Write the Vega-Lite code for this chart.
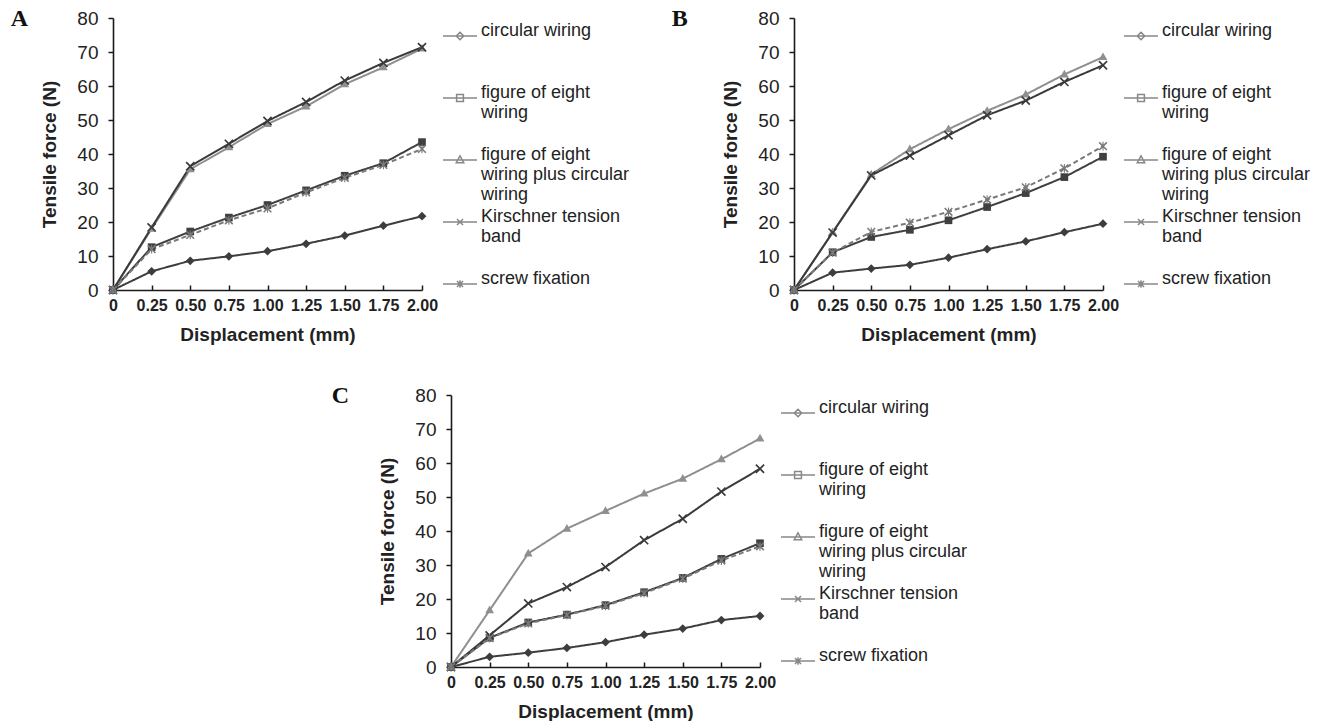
{
  "$schema": "https://vega.github.io/schema/vega-lite/v6.json",
  "padding": {"left": 10, "top": 7, "right": 0, "bottom": 0},
  "background": "white",
  "config": {
    "view": {"stroke": null},
    "axis": {"domainColor": "#1a1a1a", "domainWidth": 1.6, "tickColor": "#1a1a1a", "tickWidth": 1.5, "labelColor": "#222222", "titleColor": "#222222", "labelFont": "Liberation Sans", "titleFont": "Liberation Sans", "titleFontSize": 19, "titleFontWeight": "bold", "grid": false},
    "axisX": {"labelFontSize": 16, "labelFontWeight": "bold", "tickSize": -5, "labelPadding": 12, "titlePadding": 12, "labelFlush": false, "labelOverlap": false},
    "axisY": {"labelFontSize": 19, "tickSize": 5, "labelPadding": 10, "titlePadding": 17},
    "title": {"font": "Liberation Serif", "fontSize": 24, "fontWeight": "bold", "color": "#111111", "anchor": "start", "frame": "bounds", "offset": 0},
    "legend": {"title": null, "orient": "right", "offset": 16, "padding": 0, "labelFont": "Liberation Sans", "labelFontSize": 18, "labelColor": "#222222", "labelLimit": 300, "labelBaseline": "alphabetic", "labelOffset": 3, "symbolSize": 1156, "symbolStrokeWidth": 1.5, "symbolOpacity": 1, "rowPadding": -18}
  },
  "data": {"values": [
    {"panel": "A", "disp": 0, "circular wiring": 0, "figure of eight wiring": 0, "figure of eight wiring plus circular wiring": 0, "Kirschner tension band": 0, "screw fixation": 0},
    {"panel": "A", "disp": 0.25, "circular wiring": 5.5, "figure of eight wiring": 12.6, "figure of eight wiring plus circular wiring": 18.0, "Kirschner tension band": 18.4, "screw fixation": 12.0},
    {"panel": "A", "disp": 0.5, "circular wiring": 8.6, "figure of eight wiring": 17.2, "figure of eight wiring plus circular wiring": 35.5, "Kirschner tension band": 36.4, "screw fixation": 16.2},
    {"panel": "A", "disp": 0.75, "circular wiring": 9.9, "figure of eight wiring": 21.3, "figure of eight wiring plus circular wiring": 42.0, "Kirschner tension band": 43.0, "screw fixation": 20.5},
    {"panel": "A", "disp": 1.0, "circular wiring": 11.4, "figure of eight wiring": 25.0, "figure of eight wiring plus circular wiring": 48.8, "Kirschner tension band": 49.7, "screw fixation": 24.0},
    {"panel": "A", "disp": 1.25, "circular wiring": 13.6, "figure of eight wiring": 29.3, "figure of eight wiring plus circular wiring": 54.0, "Kirschner tension band": 55.3, "screw fixation": 28.7},
    {"panel": "A", "disp": 1.5, "circular wiring": 16.0, "figure of eight wiring": 33.6, "figure of eight wiring plus circular wiring": 60.5, "Kirschner tension band": 61.6, "screw fixation": 33.0},
    {"panel": "A", "disp": 1.75, "circular wiring": 18.9, "figure of eight wiring": 37.3, "figure of eight wiring plus circular wiring": 65.5, "Kirschner tension band": 66.8, "screw fixation": 36.8},
    {"panel": "A", "disp": 2.0, "circular wiring": 21.7, "figure of eight wiring": 43.5, "figure of eight wiring plus circular wiring": 71.0, "Kirschner tension band": 71.4, "screw fixation": 41.5},
    {"panel": "B", "disp": 0, "circular wiring": 0, "figure of eight wiring": 0, "figure of eight wiring plus circular wiring": 0, "Kirschner tension band": 0, "screw fixation": 0},
    {"panel": "B", "disp": 0.25, "circular wiring": 5.1, "figure of eight wiring": 11.1, "figure of eight wiring plus circular wiring": 17.0, "Kirschner tension band": 16.9, "screw fixation": 11.0},
    {"panel": "B", "disp": 0.5, "circular wiring": 6.3, "figure of eight wiring": 15.6, "figure of eight wiring plus circular wiring": 34.0, "Kirschner tension band": 33.7, "screw fixation": 17.1},
    {"panel": "B", "disp": 0.75, "circular wiring": 7.4, "figure of eight wiring": 17.7, "figure of eight wiring plus circular wiring": 41.4, "Kirschner tension band": 39.5, "screw fixation": 19.8},
    {"panel": "B", "disp": 1.0, "circular wiring": 9.5, "figure of eight wiring": 20.5, "figure of eight wiring plus circular wiring": 47.3, "Kirschner tension band": 45.5, "screw fixation": 23.0},
    {"panel": "B", "disp": 1.25, "circular wiring": 12.0, "figure of eight wiring": 24.4, "figure of eight wiring plus circular wiring": 52.7, "Kirschner tension band": 51.4, "screw fixation": 26.6},
    {"panel": "B", "disp": 1.5, "circular wiring": 14.3, "figure of eight wiring": 28.5, "figure of eight wiring plus circular wiring": 57.5, "Kirschner tension band": 55.7, "screw fixation": 30.2},
    {"panel": "B", "disp": 1.75, "circular wiring": 17.0, "figure of eight wiring": 33.2, "figure of eight wiring plus circular wiring": 63.4, "Kirschner tension band": 61.2, "screw fixation": 35.8},
    {"panel": "B", "disp": 2.0, "circular wiring": 19.5, "figure of eight wiring": 39.2, "figure of eight wiring plus circular wiring": 68.5, "Kirschner tension band": 66.1, "screw fixation": 42.3},
    {"panel": "C", "disp": 0, "circular wiring": 0, "figure of eight wiring": 0, "figure of eight wiring plus circular wiring": 0, "Kirschner tension band": 0, "screw fixation": 0},
    {"panel": "C", "disp": 0.25, "circular wiring": 3.0, "figure of eight wiring": 8.6, "figure of eight wiring plus circular wiring": 16.7, "Kirschner tension band": 9.3, "screw fixation": 8.5},
    {"panel": "C", "disp": 0.5, "circular wiring": 4.2, "figure of eight wiring": 13.1, "figure of eight wiring plus circular wiring": 33.4, "Kirschner tension band": 18.7, "screw fixation": 12.8},
    {"panel": "C", "disp": 0.75, "circular wiring": 5.6, "figure of eight wiring": 15.4, "figure of eight wiring plus circular wiring": 40.7, "Kirschner tension band": 23.5, "screw fixation": 15.3},
    {"panel": "C", "disp": 1.0, "circular wiring": 7.3, "figure of eight wiring": 18.2, "figure of eight wiring plus circular wiring": 45.9, "Kirschner tension band": 29.4, "screw fixation": 18.0},
    {"panel": "C", "disp": 1.25, "circular wiring": 9.5, "figure of eight wiring": 22.0, "figure of eight wiring plus circular wiring": 51.0, "Kirschner tension band": 37.3, "screw fixation": 21.7},
    {"panel": "C", "disp": 1.5, "circular wiring": 11.3, "figure of eight wiring": 26.2, "figure of eight wiring plus circular wiring": 55.4, "Kirschner tension band": 43.6, "screw fixation": 26.0},
    {"panel": "C", "disp": 1.75, "circular wiring": 13.8, "figure of eight wiring": 31.8, "figure of eight wiring plus circular wiring": 61.1, "Kirschner tension band": 51.6, "screw fixation": 31.3},
    {"panel": "C", "disp": 2.0, "circular wiring": 15.0, "figure of eight wiring": 36.4, "figure of eight wiring plus circular wiring": 67.2, "Kirschner tension band": 58.3, "screw fixation": 35.5}
  ]},
  "resolve": {"scale": {"color": "independent", "shape": "independent", "strokeDash": "independent"}, "legend": {"color": "independent", "shape": "independent", "strokeDash": "independent"}},
  "spacing": 40,
  "vconcat": [
    {
      "spacing": 41,
      "resolve": {"scale": {"color": "independent", "shape": "independent", "strokeDash": "independent"}, "legend": {"color": "independent", "shape": "independent", "strokeDash": "independent"}},
      "hconcat": [
        {
          "width": 309, "height": 272,
          "title": {"text": "A", "dx": -30, "dy": 26},
          "resolve": {"scale": {"shape": "independent"}},
          "encoding": {
            "x": {"field": "disp", "type": "quantitative", "scale": {"domain": [0, 2], "nice": false}, "axis": {"title": "Displacement (mm)", "values": [0, 0.25, 0.5, 0.75, 1, 1.25, 1.5, 1.75, 2], "labelExpr": "datum.value == 0 ? '0' : format(datum.value, '.2f')"}},
            "y": {"field": "force", "type": "quantitative", "scale": {"domain": [0, 80], "nice": false}, "axis": {"title": "Tensile force (N)", "values": [0, 10, 20, 30, 40, 50, 60, 70, 80]}}
          },
          "layer": [
            {
              "transform": [{"filter": "datum.panel == 'A'"}, {"fold": ["circular wiring", "figure of eight wiring", "figure of eight wiring plus circular wiring", "Kirschner tension band", "screw fixation"], "as": ["series", "force"]}],
              "mark": {"type": "line", "strokeWidth": 2},
              "encoding": {
                "color": {"field": "series", "type": "nominal", "scale": {"domain": ["circular wiring", "figure of eight wiring", "figure of eight wiring plus circular wiring", "Kirschner tension band", "screw fixation"], "range": ["#3d3d3d", "#404040", "#8f8f8f", "#3a3a3a", "#7a7a7a"]}, "legend": null},
                "strokeDash": {"field": "series", "type": "nominal", "scale": {"domain": ["circular wiring", "figure of eight wiring", "figure of eight wiring plus circular wiring", "Kirschner tension band", "screw fixation"], "range": [[1, 0], [1, 0], [1, 0], [1, 0], [5, 3]]}, "legend": null}
              }
            },
            {
              "transform": [{"filter": "datum.panel == 'A'"}, {"fold": ["circular wiring", "figure of eight wiring", "figure of eight wiring plus circular wiring", "Kirschner tension band", "screw fixation"], "as": ["marker", "force"]}],
              "mark": {"type": "point", "filled": true, "opacity": 1},
              "encoding": {
                "color": {"field": "marker", "type": "nominal", "scale": {"domain": ["circular wiring", "figure of eight wiring", "figure of eight wiring plus circular wiring", "Kirschner tension band", "screw fixation"], "range": ["#3d3d3d", "#404040", "#8f8f8f", "#3a3a3a", "#7a7a7a"]}, "legend": null},
                "shape": {"field": "marker", "type": "nominal", "scale": {"domain": ["circular wiring", "figure of eight wiring", "figure of eight wiring plus circular wiring", "Kirschner tension band", "screw fixation"], "range": ["M0,-1.6L1.6,0L0,1.6L-1.6,0Z", "M-1.4,-1.4H1.4V1.4H-1.4Z", "M0,-1.7L1.6,1.1L-1.6,1.1Z", "M-1.7,-1.275L-1.275,-1.7L0,-0.425L1.275,-1.7L1.7,-1.275L0.425,0L1.7,1.275L1.275,1.7L0,0.425L-1.275,1.7L-1.7,1.275L-0.425,0Z", "M-1.6,-1.2L-1.2,-1.6L0,-0.4L1.2,-1.6L1.6,-1.2L0.4,0L1.6,1.2L1.2,1.6L0,0.4L-1.2,1.6L-1.6,1.2L-0.4,0ZM-0.2,-1.6H0.2V1.6H-0.2Z"]}, "legend": null}
              }
            },
            {
              "data": {"values": []},
              "transform": [{"fold": ["circular wiring", "figure of eight wiring", "figure of eight wiring plus circular wiring", "Kirschner tension band", "screw fixation"], "as": ["series", "force"]}],
              "mark": {"type": "point", "filled": false, "strokeWidth": 1.5},
              "encoding": {
                "color": {"field": "series", "type": "nominal", "scale": {"domain": ["circular wiring", "figure of eight wiring", "figure of eight wiring plus circular wiring", "Kirschner tension band", "screw fixation"], "range": ["#3d3d3d", "#404040", "#8f8f8f", "#3a3a3a", "#7a7a7a"]},
                  "legend": {"title": null, "orient": "right", "offset": 16, "padding": 0, "labelExpr": "datum.value == 'circular wiring' ? ['circular wiring', '', ''] : datum.value == 'figure of eight wiring' ? ['figure of eight', 'wiring', ''] : datum.value == 'figure of eight wiring plus circular wiring' ? ['figure of eight', 'wiring plus circular', 'wiring'] : datum.value == 'Kirschner tension band' ? ['Kirschner tension', 'band', ''] : ['screw fixation', '', '']", "labelFont": "Liberation Sans", "labelFontSize": 18, "labelColor": "#222222", "labelLimit": 300, "labelBaseline": "alphabetic", "labelOffset": 3, "symbolSize": 1156, "symbolStrokeWidth": 1.5, "symbolOpacity": 1, "rowPadding": -18}
                },
                "shape": {"field": "series", "type": "nominal", "scale": {"domain": ["circular wiring", "figure of eight wiring", "figure of eight wiring plus circular wiring", "Kirschner tension band", "screw fixation"], "range": ["M-1,0H1M0,-0.22L0.22,0L0,0.22L-0.22,0Z", "M-1,0H1M-0.2,-0.2H0.2V0.2H-0.2Z", "M-1,0H1M0,-0.24L0.22,0.16L-0.22,0.16Z", "M-1,0H1M-0.18,-0.18L0.18,0.18M-0.18,0.18L0.18,-0.18", "M-1,0H1M-0.18,-0.18L0.18,0.18M-0.18,0.18L0.18,-0.18M0,-0.22V0.22"]},
                  "legend": {"title": null, "orient": "right", "offset": 16, "padding": 0, "labelExpr": "datum.value == 'circular wiring' ? ['circular wiring', '', ''] : datum.value == 'figure of eight wiring' ? ['figure of eight', 'wiring', ''] : datum.value == 'figure of eight wiring plus circular wiring' ? ['figure of eight', 'wiring plus circular', 'wiring'] : datum.value == 'Kirschner tension band' ? ['Kirschner tension', 'band', ''] : ['screw fixation', '', '']", "labelFont": "Liberation Sans", "labelFontSize": 18, "labelColor": "#222222", "labelLimit": 300, "labelBaseline": "alphabetic", "labelOffset": 3, "symbolSize": 1156, "symbolStrokeWidth": 1.5, "symbolOpacity": 1, "rowPadding": -18}
                },
                "strokeDash": {"field": "series", "type": "nominal", "scale": {"domain": ["circular wiring", "figure of eight wiring", "figure of eight wiring plus circular wiring", "Kirschner tension band", "screw fixation"], "range": [[1, 0], [1, 0], [1, 0], [1, 0], [5, 3]]},
                  "legend": {"title": null, "orient": "right", "offset": 16, "padding": 0, "labelExpr": "datum.value == 'circular wiring' ? ['circular wiring', '', ''] : datum.value == 'figure of eight wiring' ? ['figure of eight', 'wiring', ''] : datum.value == 'figure of eight wiring plus circular wiring' ? ['figure of eight', 'wiring plus circular', 'wiring'] : datum.value == 'Kirschner tension band' ? ['Kirschner tension', 'band', ''] : ['screw fixation', '', '']", "labelFont": "Liberation Sans", "labelFontSize": 18, "labelColor": "#222222", "labelLimit": 300, "labelBaseline": "alphabetic", "labelOffset": 3, "symbolSize": 1156, "symbolStrokeWidth": 1.5, "symbolOpacity": 1, "rowPadding": -18}
                }
              }
            }
          ]
        },
        {
          "width": 309, "height": 272,
          "title": {"text": "B", "dx": -50, "dy": 26},
          "resolve": {"scale": {"shape": "independent"}},
          "encoding": {
            "x": {"field": "disp", "type": "quantitative", "scale": {"domain": [0, 2], "nice": false}, "axis": {"title": "Displacement (mm)", "values": [0, 0.25, 0.5, 0.75, 1, 1.25, 1.5, 1.75, 2], "labelExpr": "datum.value == 0 ? '0' : format(datum.value, '.2f')"}},
            "y": {"field": "force", "type": "quantitative", "scale": {"domain": [0, 80], "nice": false}, "axis": {"title": "Tensile force (N)", "values": [0, 10, 20, 30, 40, 50, 60, 70, 80]}}
          },
          "layer": [
            {
              "transform": [{"filter": "datum.panel == 'B'"}, {"fold": ["circular wiring", "figure of eight wiring", "figure of eight wiring plus circular wiring", "Kirschner tension band", "screw fixation"], "as": ["series", "force"]}],
              "mark": {"type": "line", "strokeWidth": 2},
              "encoding": {
                "color": {"field": "series", "type": "nominal", "scale": {"domain": ["circular wiring", "figure of eight wiring", "figure of eight wiring plus circular wiring", "Kirschner tension band", "screw fixation"], "range": ["#3d3d3d", "#404040", "#8f8f8f", "#3a3a3a", "#7a7a7a"]}, "legend": null},
                "strokeDash": {"field": "series", "type": "nominal", "scale": {"domain": ["circular wiring", "figure of eight wiring", "figure of eight wiring plus circular wiring", "Kirschner tension band", "screw fixation"], "range": [[1, 0], [1, 0], [1, 0], [1, 0], [5, 3]]}, "legend": null}
              }
            },
            {
              "transform": [{"filter": "datum.panel == 'B'"}, {"fold": ["circular wiring", "figure of eight wiring", "figure of eight wiring plus circular wiring", "Kirschner tension band", "screw fixation"], "as": ["marker", "force"]}],
              "mark": {"type": "point", "filled": true, "opacity": 1},
              "encoding": {
                "color": {"field": "marker", "type": "nominal", "scale": {"domain": ["circular wiring", "figure of eight wiring", "figure of eight wiring plus circular wiring", "Kirschner tension band", "screw fixation"], "range": ["#3d3d3d", "#404040", "#8f8f8f", "#3a3a3a", "#7a7a7a"]}, "legend": null},
                "shape": {"field": "marker", "type": "nominal", "scale": {"domain": ["circular wiring", "figure of eight wiring", "figure of eight wiring plus circular wiring", "Kirschner tension band", "screw fixation"], "range": ["M0,-1.6L1.6,0L0,1.6L-1.6,0Z", "M-1.4,-1.4H1.4V1.4H-1.4Z", "M0,-1.7L1.6,1.1L-1.6,1.1Z", "M-1.7,-1.275L-1.275,-1.7L0,-0.425L1.275,-1.7L1.7,-1.275L0.425,0L1.7,1.275L1.275,1.7L0,0.425L-1.275,1.7L-1.7,1.275L-0.425,0Z", "M-1.6,-1.2L-1.2,-1.6L0,-0.4L1.2,-1.6L1.6,-1.2L0.4,0L1.6,1.2L1.2,1.6L0,0.4L-1.2,1.6L-1.6,1.2L-0.4,0ZM-0.2,-1.6H0.2V1.6H-0.2Z"]}, "legend": null}
              }
            },
            {
              "data": {"values": []},
              "transform": [{"fold": ["circular wiring", "figure of eight wiring", "figure of eight wiring plus circular wiring", "Kirschner tension band", "screw fixation"], "as": ["series", "force"]}],
              "mark": {"type": "point", "filled": false, "strokeWidth": 1.5},
              "encoding": {
                "color": {"field": "series", "type": "nominal", "scale": {"domain": ["circular wiring", "figure of eight wiring", "figure of eight wiring plus circular wiring", "Kirschner tension band", "screw fixation"], "range": ["#3d3d3d", "#404040", "#8f8f8f", "#3a3a3a", "#7a7a7a"]},
                  "legend": {"title": null, "orient": "right", "offset": 16, "padding": 0, "labelExpr": "datum.value == 'circular wiring' ? ['circular wiring', '', ''] : datum.value == 'figure of eight wiring' ? ['figure of eight', 'wiring', ''] : datum.value == 'figure of eight wiring plus circular wiring' ? ['figure of eight', 'wiring plus circular', 'wiring'] : datum.value == 'Kirschner tension band' ? ['Kirschner tension', 'band', ''] : ['screw fixation', '', '']", "labelFont": "Liberation Sans", "labelFontSize": 18, "labelColor": "#222222", "labelLimit": 300, "labelBaseline": "alphabetic", "labelOffset": 3, "symbolSize": 1156, "symbolStrokeWidth": 1.5, "symbolOpacity": 1, "rowPadding": -18}
                },
                "shape": {"field": "series", "type": "nominal", "scale": {"domain": ["circular wiring", "figure of eight wiring", "figure of eight wiring plus circular wiring", "Kirschner tension band", "screw fixation"], "range": ["M-1,0H1M0,-0.22L0.22,0L0,0.22L-0.22,0Z", "M-1,0H1M-0.2,-0.2H0.2V0.2H-0.2Z", "M-1,0H1M0,-0.24L0.22,0.16L-0.22,0.16Z", "M-1,0H1M-0.18,-0.18L0.18,0.18M-0.18,0.18L0.18,-0.18", "M-1,0H1M-0.18,-0.18L0.18,0.18M-0.18,0.18L0.18,-0.18M0,-0.22V0.22"]},
                  "legend": {"title": null, "orient": "right", "offset": 16, "padding": 0, "labelExpr": "datum.value == 'circular wiring' ? ['circular wiring', '', ''] : datum.value == 'figure of eight wiring' ? ['figure of eight', 'wiring', ''] : datum.value == 'figure of eight wiring plus circular wiring' ? ['figure of eight', 'wiring plus circular', 'wiring'] : datum.value == 'Kirschner tension band' ? ['Kirschner tension', 'band', ''] : ['screw fixation', '', '']", "labelFont": "Liberation Sans", "labelFontSize": 18, "labelColor": "#222222", "labelLimit": 300, "labelBaseline": "alphabetic", "labelOffset": 3, "symbolSize": 1156, "symbolStrokeWidth": 1.5, "symbolOpacity": 1, "rowPadding": -18}
                },
                "strokeDash": {"field": "series", "type": "nominal", "scale": {"domain": ["circular wiring", "figure of eight wiring", "figure of eight wiring plus circular wiring", "Kirschner tension band", "screw fixation"], "range": [[1, 0], [1, 0], [1, 0], [1, 0], [5, 3]]},
                  "legend": {"title": null, "orient": "right", "offset": 16, "padding": 0, "labelExpr": "datum.value == 'circular wiring' ? ['circular wiring', '', ''] : datum.value == 'figure of eight wiring' ? ['figure of eight', 'wiring', ''] : datum.value == 'figure of eight wiring plus circular wiring' ? ['figure of eight', 'wiring plus circular', 'wiring'] : datum.value == 'Kirschner tension band' ? ['Kirschner tension', 'band', ''] : ['screw fixation', '', '']", "labelFont": "Liberation Sans", "labelFontSize": 18, "labelColor": "#222222", "labelLimit": 300, "labelBaseline": "alphabetic", "labelOffset": 3, "symbolSize": 1156, "symbolStrokeWidth": 1.5, "symbolOpacity": 1, "rowPadding": -18}
                }
              }
            }
          ]
        }
      ]
    },
    {
      "spacing": 0,
      "resolve": {"scale": {"color": "independent", "shape": "independent", "strokeDash": "independent"}, "legend": {"color": "independent", "shape": "independent", "strokeDash": "independent"}},
      "hconcat": [
        {"width": 218, "height": 10, "mark": {"type": "point", "opacity": 0}, "encoding": {}},
        {
          "width": 309, "height": 272,
          "title": {"text": "C", "dx": -47, "dy": 26},
          "resolve": {"scale": {"shape": "independent"}},
          "encoding": {
            "x": {"field": "disp", "type": "quantitative", "scale": {"domain": [0, 2], "nice": false}, "axis": {"title": "Displacement (mm)", "values": [0, 0.25, 0.5, 0.75, 1, 1.25, 1.5, 1.75, 2], "labelExpr": "datum.value == 0 ? '0' : format(datum.value, '.2f')"}},
            "y": {"field": "force", "type": "quantitative", "scale": {"domain": [0, 80], "nice": false}, "axis": {"title": "Tensile force (N)", "values": [0, 10, 20, 30, 40, 50, 60, 70, 80]}}
          },
          "layer": [
            {
              "transform": [{"filter": "datum.panel == 'C'"}, {"fold": ["circular wiring", "figure of eight wiring", "figure of eight wiring plus circular wiring", "Kirschner tension band", "screw fixation"], "as": ["series", "force"]}],
              "mark": {"type": "line", "strokeWidth": 2},
              "encoding": {
                "color": {"field": "series", "type": "nominal", "scale": {"domain": ["circular wiring", "figure of eight wiring", "figure of eight wiring plus circular wiring", "Kirschner tension band", "screw fixation"], "range": ["#3d3d3d", "#404040", "#8f8f8f", "#3a3a3a", "#7a7a7a"]}, "legend": null},
                "strokeDash": {"field": "series", "type": "nominal", "scale": {"domain": ["circular wiring", "figure of eight wiring", "figure of eight wiring plus circular wiring", "Kirschner tension band", "screw fixation"], "range": [[1, 0], [1, 0], [1, 0], [1, 0], [5, 3]]}, "legend": null}
              }
            },
            {
              "transform": [{"filter": "datum.panel == 'C'"}, {"fold": ["circular wiring", "figure of eight wiring", "figure of eight wiring plus circular wiring", "Kirschner tension band", "screw fixation"], "as": ["marker", "force"]}],
              "mark": {"type": "point", "filled": true, "opacity": 1},
              "encoding": {
                "color": {"field": "marker", "type": "nominal", "scale": {"domain": ["circular wiring", "figure of eight wiring", "figure of eight wiring plus circular wiring", "Kirschner tension band", "screw fixation"], "range": ["#3d3d3d", "#404040", "#8f8f8f", "#3a3a3a", "#7a7a7a"]}, "legend": null},
                "shape": {"field": "marker", "type": "nominal", "scale": {"domain": ["circular wiring", "figure of eight wiring", "figure of eight wiring plus circular wiring", "Kirschner tension band", "screw fixation"], "range": ["M0,-1.6L1.6,0L0,1.6L-1.6,0Z", "M-1.4,-1.4H1.4V1.4H-1.4Z", "M0,-1.7L1.6,1.1L-1.6,1.1Z", "M-1.7,-1.275L-1.275,-1.7L0,-0.425L1.275,-1.7L1.7,-1.275L0.425,0L1.7,1.275L1.275,1.7L0,0.425L-1.275,1.7L-1.7,1.275L-0.425,0Z", "M-1.6,-1.2L-1.2,-1.6L0,-0.4L1.2,-1.6L1.6,-1.2L0.4,0L1.6,1.2L1.2,1.6L0,0.4L-1.2,1.6L-1.6,1.2L-0.4,0ZM-0.2,-1.6H0.2V1.6H-0.2Z"]}, "legend": null}
              }
            },
            {
              "data": {"values": []},
              "transform": [{"fold": ["circular wiring", "figure of eight wiring", "figure of eight wiring plus circular wiring", "Kirschner tension band", "screw fixation"], "as": ["series", "force"]}],
              "mark": {"type": "point", "filled": false, "strokeWidth": 1.5},
              "encoding": {
                "color": {"field": "series", "type": "nominal", "scale": {"domain": ["circular wiring", "figure of eight wiring", "figure of eight wiring plus circular wiring", "Kirschner tension band", "screw fixation"], "range": ["#3d3d3d", "#404040", "#8f8f8f", "#3a3a3a", "#7a7a7a"]},
                  "legend": {"title": null, "orient": "right", "offset": 16, "padding": 0, "labelExpr": "datum.value == 'circular wiring' ? ['circular wiring', '', ''] : datum.value == 'figure of eight wiring' ? ['figure of eight', 'wiring', ''] : datum.value == 'figure of eight wiring plus circular wiring' ? ['figure of eight', 'wiring plus circular', 'wiring'] : datum.value == 'Kirschner tension band' ? ['Kirschner tension', 'band', ''] : ['screw fixation', '', '']", "labelFont": "Liberation Sans", "labelFontSize": 18, "labelColor": "#222222", "labelLimit": 300, "labelBaseline": "alphabetic", "labelOffset": 3, "symbolSize": 1156, "symbolStrokeWidth": 1.5, "symbolOpacity": 1, "rowPadding": -18}
                },
                "shape": {"field": "series", "type": "nominal", "scale": {"domain": ["circular wiring", "figure of eight wiring", "figure of eight wiring plus circular wiring", "Kirschner tension band", "screw fixation"], "range": ["M-1,0H1M0,-0.22L0.22,0L0,0.22L-0.22,0Z", "M-1,0H1M-0.2,-0.2H0.2V0.2H-0.2Z", "M-1,0H1M0,-0.24L0.22,0.16L-0.22,0.16Z", "M-1,0H1M-0.18,-0.18L0.18,0.18M-0.18,0.18L0.18,-0.18", "M-1,0H1M-0.18,-0.18L0.18,0.18M-0.18,0.18L0.18,-0.18M0,-0.22V0.22"]},
                  "legend": {"title": null, "orient": "right", "offset": 16, "padding": 0, "labelExpr": "datum.value == 'circular wiring' ? ['circular wiring', '', ''] : datum.value == 'figure of eight wiring' ? ['figure of eight', 'wiring', ''] : datum.value == 'figure of eight wiring plus circular wiring' ? ['figure of eight', 'wiring plus circular', 'wiring'] : datum.value == 'Kirschner tension band' ? ['Kirschner tension', 'band', ''] : ['screw fixation', '', '']", "labelFont": "Liberation Sans", "labelFontSize": 18, "labelColor": "#222222", "labelLimit": 300, "labelBaseline": "alphabetic", "labelOffset": 3, "symbolSize": 1156, "symbolStrokeWidth": 1.5, "symbolOpacity": 1, "rowPadding": -18}
                },
                "strokeDash": {"field": "series", "type": "nominal", "scale": {"domain": ["circular wiring", "figure of eight wiring", "figure of eight wiring plus circular wiring", "Kirschner tension band", "screw fixation"], "range": [[1, 0], [1, 0], [1, 0], [1, 0], [5, 3]]},
                  "legend": {"title": null, "orient": "right", "offset": 16, "padding": 0, "labelExpr": "datum.value == 'circular wiring' ? ['circular wiring', '', ''] : datum.value == 'figure of eight wiring' ? ['figure of eight', 'wiring', ''] : datum.value == 'figure of eight wiring plus circular wiring' ? ['figure of eight', 'wiring plus circular', 'wiring'] : datum.value == 'Kirschner tension band' ? ['Kirschner tension', 'band', ''] : ['screw fixation', '', '']", "labelFont": "Liberation Sans", "labelFontSize": 18, "labelColor": "#222222", "labelLimit": 300, "labelBaseline": "alphabetic", "labelOffset": 3, "symbolSize": 1156, "symbolStrokeWidth": 1.5, "symbolOpacity": 1, "rowPadding": -18}
                }
              }
            }
          ]
        }
      ]
    }
  ]
}
